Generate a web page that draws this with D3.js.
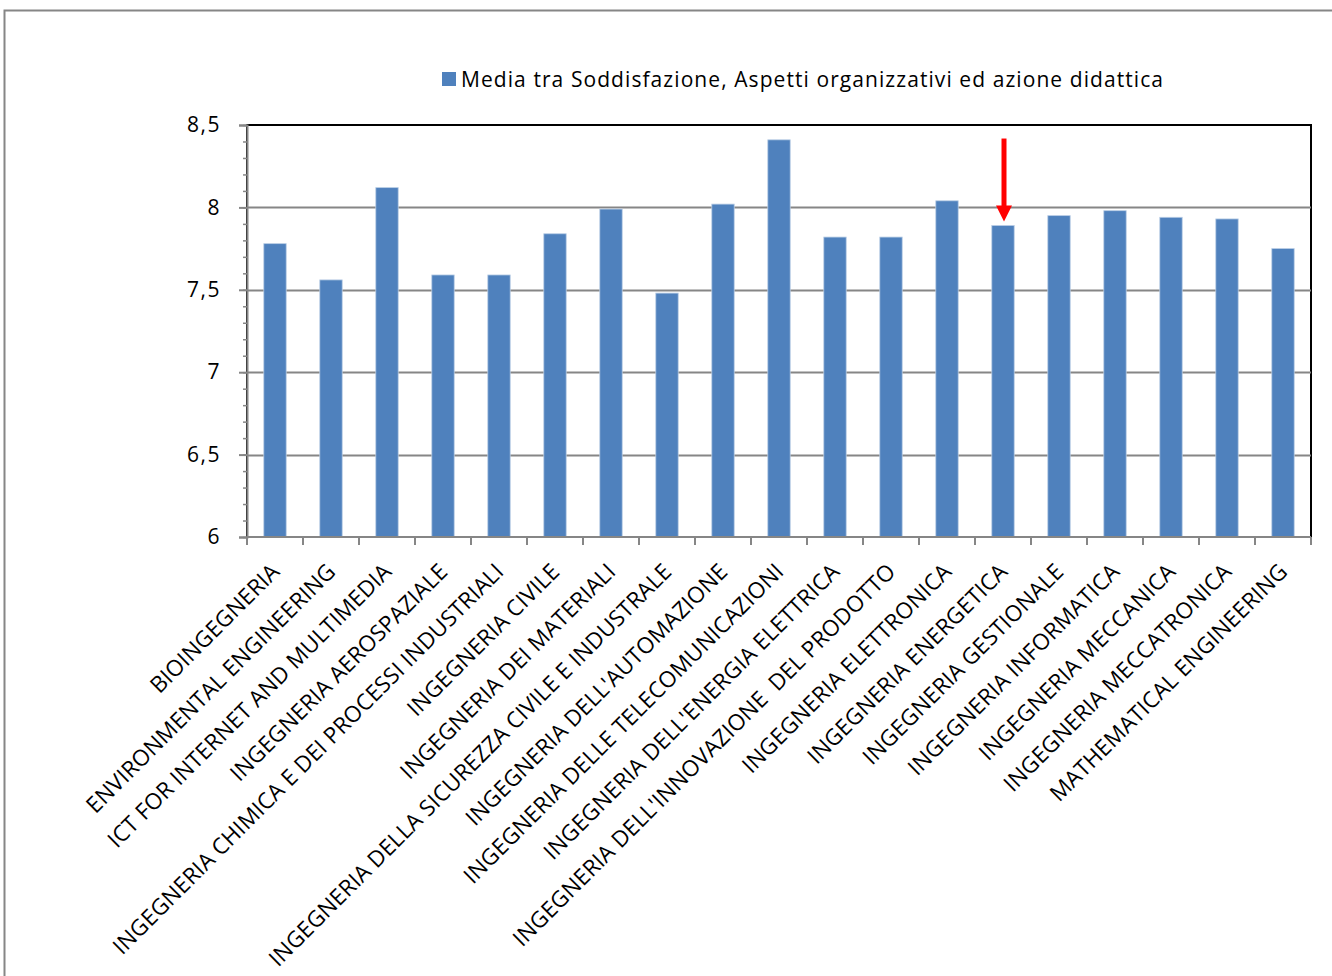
<!DOCTYPE html>
<html>
<head>
<meta charset="utf-8">
<script src="https://cdn.jsdelivr.net/npm/d3@7"></script>
<style>
  html, body { margin: 0; padding: 0; background: #fff; }
  svg { display: block; }
  text { font-family: "Open Sans", "Noto Sans", sans-serif; fill: #000; }
</style>
</head>
<body>
<svg id="chart" width="1332" height="976"></svg>
<script>
// Corsi di laurea (categorie sull'asse x)
const categories = [
  "BIOINGEGNERIA",
  "ENVIRONMENTAL ENGINEERING",
  "ICT FOR INTERNET AND MULTIMEDIA",
  "INGEGNERIA AEROSPAZIALE",
  "INGEGNERIA CHIMICA E DEI PROCESSI INDUSTRIALI",
  "INGEGNERIA CIVILE",
  "INGEGNERIA DEI MATERIALI",
  "INGEGNERIA DELLA SICUREZZA CIVILE E INDUSTRALE",
  "INGEGNERIA DELL'AUTOMAZIONE",
  "INGEGNERIA DELLE TELECOMUNICAZIONI",
  "INGEGNERIA DELL'ENERGIA ELETTRICA",
  "INGEGNERIA DELL'INNOVAZIONE  DEL PRODOTTO",
  "INGEGNERIA ELETTRONICA",
  "INGEGNERIA ENERGETICA",
  "INGEGNERIA GESTIONALE",
  "INGEGNERIA INFORMATICA",
  "INGEGNERIA MECCANICA",
  "INGEGNERIA MECCATRONICA",
  "MATHEMATICAL ENGINEERING"
];

// Media tra Soddisfazione, Aspetti organizzativi ed azione didattica
const values = [7.78, 7.56, 8.12, 7.59, 7.59, 7.84, 7.99, 7.48, 8.02, 8.41,
                7.82, 7.82, 8.04, 7.89, 7.95, 7.98, 7.94, 7.93, 7.75];

const seriesName = "Media tra Soddisfazione, Aspetti organizzativi ed azione didattica";
const yTickValues = [6, 6.5, 7, 7.5, 8, 8.5];
const yTickLabels = ["6", "6,5", "7", "7,5", "8", "8,5"];
const highlighted = ["INGEGNERIA ENERGETICA"];

const svg = d3.select("#chart");
const W = 1332, H = 976;
const plot = { left: 247, right: 1311, top: 125, bottom: 537 };

// Cornice esterna del grafico
svg.append("rect")
  .attr("x", 4.5).attr("y", 10.5)
  .attr("width", W + 20).attr("height", H + 20)
  .attr("fill", "#fff").attr("stroke", "#868686").attr("stroke-width", 2);

const x = d3.scaleBand().domain(categories).range([plot.left, plot.right]).paddingInner(0.6).paddingOuter(0.3);
const xb = d3.scaleBand().domain(categories).range([plot.left, plot.right]);
const y = d3.scaleLinear().domain([6, 8.5]).range([plot.bottom, plot.top]);

// Bordo dell'area del tracciato
svg.append("rect")
  .attr("x", plot.left).attr("y", plot.top)
  .attr("width", plot.right - plot.left).attr("height", plot.bottom - plot.top)
  .attr("fill", "none").attr("stroke", "#000").attr("stroke-width", 2);

// Griglia orizzontale
svg.append("g")
  .selectAll("line")
  .data(yTickValues.filter(v => v > 6 && v < 8.5))
  .join("line")
  .attr("x1", plot.left).attr("x2", plot.right)
  .attr("y1", d => Math.round(y(d)) + 0.5).attr("y2", d => Math.round(y(d)) + 0.5)
  .attr("stroke", "#868686").attr("stroke-width", 2);

// Barre
svg.append("g")
  .selectAll("rect")
  .data(values)
  .join("rect")
  .attr("x", (d, i) => x(categories[i]))
  .attr("width", x.bandwidth())
  .attr("y", d => y(d))
  .attr("height", d => y(6) - y(d))
  .attr("fill", "#4F81BD")
  .attr("stroke", "#B9CDE5").attr("stroke-width", 0.8);

// Asse y con tacche secondarie
const minorTicks = d3.range(60, 86).map(v => v / 10);
const yAxisMinor = d3.axisLeft(y).tickValues(minorTicks).tickSize(4).tickFormat("");
svg.append("g")
  .attr("transform", `translate(${plot.left},0)`)
  .call(yAxisMinor)
  .call(g => g.select(".domain").remove())
  .call(g => g.selectAll("line").attr("stroke", "#868686").attr("stroke-width", 1.5));

const yAxis = d3.axisLeft(y)
  .tickValues(yTickValues)
  .tickSize(8)
  .tickPadding(18)
  .tickFormat((d, i) => yTickLabels[i]);
svg.append("g")
  .attr("transform", `translate(${plot.left},0)`)
  .call(yAxis)
  .call(g => g.select(".domain").attr("stroke", "#868686").attr("stroke-width", 2))
  .call(g => g.selectAll(".tick line").attr("stroke", "#868686").attr("stroke-width", 2))
  .call(g => g.selectAll(".tick text")
    .attr("font-size", 21)
    .attr("letter-spacing", 1.5)
    .attr("font-family", "'Open Sans', sans-serif")
    .attr("fill", "#000"));

// Asse x: tacche ai confini delle categorie
const boundaries = categories.map(c => xb(c)).concat([plot.right]);
svg.append("line")
  .attr("x1", plot.left).attr("x2", plot.right)
  .attr("y1", plot.bottom).attr("y2", plot.bottom)
  .attr("stroke", "#868686").attr("stroke-width", 2);
svg.append("g")
  .selectAll("line")
  .data(boundaries)
  .join("line")
  .attr("x1", d => d).attr("x2", d => d)
  .attr("y1", plot.bottom).attr("y2", plot.bottom + 8)
  .attr("stroke", "#868686").attr("stroke-width", 2);

// Etichette delle categorie ruotate di 45 gradi
svg.append("g")
  .selectAll("text")
  .data(categories)
  .join("text")
  .attr("transform", d => `translate(${xb(d) + xb.bandwidth() / 2 + 6},${plot.bottom + 36}) rotate(-45)`)
  .attr("text-anchor", "end")
  .attr("font-size", 22.5)
  .attr("letter-spacing", 0.1)
  .style("white-space", "pre")
  .text(d => d);

// Legenda
const legendX = 442, legendY = 72;
svg.append("rect")
  .attr("x", legendX).attr("y", legendY)
  .attr("width", 14).attr("height", 14)
  .attr("fill", "#4F81BD");
svg.append("text")
  .attr("x", legendX + 19).attr("y", legendY + 15)
  .attr("font-size", 21)
  .attr("textLength", 702)
  .attr("lengthAdjust", "spacing")
  .text(seriesName);

// Freccia rossa sulla barra evidenziata
const arrow = svg.append("g");
highlighted.forEach(name => {
  const i = categories.indexOf(name);
  const cx = x(name) + x.bandwidth() / 2 + 1;
  const tip = y(values[i]) - 4;
  const headLen = 16, headHalf = 8, shaftTop = tip - 83;
  arrow.append("line")
    .attr("x1", cx).attr("x2", cx)
    .attr("y1", shaftTop).attr("y2", tip - headLen + 1)
    .attr("stroke", "#FF0000").attr("stroke-width", 5);
  arrow.append("path")
    .attr("d", `M${cx - headHalf},${tip - headLen} L${cx + headHalf},${tip - headLen} L${cx},${tip} Z`)
    .attr("fill", "#FF0000");
});
</script>
</body>
</html>
